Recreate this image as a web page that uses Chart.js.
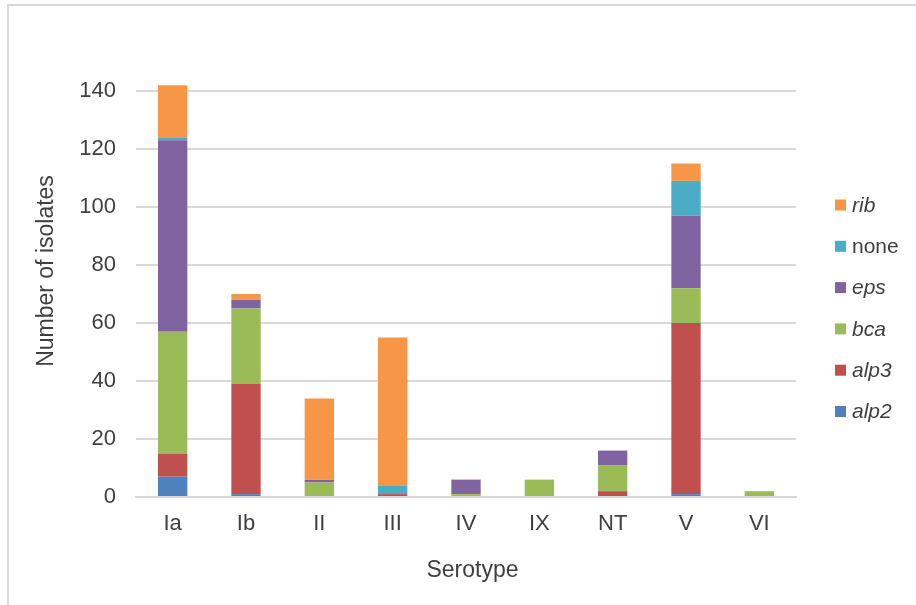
<!DOCTYPE html>
<html>
<head>
<meta charset="utf-8">
<script src="https://cdn.jsdelivr.net/npm/chart.js@4.4.1/dist/chart.umd.min.js"></script>
<style>
  html, body { margin: 0; padding: 0; background: #fff; }
  #wrap { position: relative; width: 916px; height: 605px; overflow: hidden; }
  #frame { position: absolute; left: 7px; top: 4px; width: 980px; height: 680px;
           border: 2px solid #d9d9d9; box-sizing: border-box; }
  #c { position: absolute; left: 0; top: 0; }
</style>
</head>
<body>
<div id="wrap">
  <div id="frame"></div>
  <canvas id="c" width="916" height="605"></canvas>
</div>
<script>
// Serotypes along the x axis
const serotypes = ['Ia', 'Ib', 'II', 'III', 'IV', 'IX', 'NT', 'V', 'VI'];

// Isolate counts per surface-protein gene, stacked bottom to top
const alp2 = [7, 1, 0, 0, 0, 0, 0, 1, 0];
const alp3 = [8, 38, 0, 1, 0, 0, 2, 59, 0];
const bca  = [42, 26, 5, 0, 1, 6, 9, 12, 2];
const eps  = [66, 3, 1, 0, 5, 0, 5, 25, 0];
const none = [1, 0, 0, 3, 0, 0, 0, 12, 0];
const rib  = [18, 2, 28, 51, 0, 0, 0, 6, 0];

const seriesNames  = ['alp2', 'alp3', 'bca', 'eps', 'none', 'rib'];
const seriesItalic = [true, true, true, true, false, true];
const seriesColors = ['#4F81BD', '#C0504D', '#9BBB59', '#8064A2', '#4BACC6', '#F79646'];
const seriesValues = [alp2, alp3, bca, eps, none, rib];

// Y axis ticks
const yTicks = [0, 20, 40, 60, 80, 100, 120, 140];

const FONT = '"Liberation Sans", Arial, sans-serif';
const TEXT = '#3f3f3f';
const GRID = '#d9d9d9';

// Legend drawn at the right, top entry = top of the stack, with italic gene names
const sideLegend = {
  id: 'sideLegend',
  afterDraw(chart) {
    const { ctx, chartArea } = chart;
    const ds = chart.data.datasets;
    const x0 = chartArea.right + 39;
    const y0 = chartArea.top + 114;
    const gap = 41.3;
    ctx.save();
    ctx.textBaseline = 'middle';
    ctx.textAlign = 'left';
    for (let i = ds.length - 1, row = 0; i >= 0; i--, row++) {
      const y = y0 + row * gap;
      ctx.fillStyle = ds[i].backgroundColor;
      ctx.fillRect(x0, y - 5.5, 11, 11);
      ctx.font = (seriesItalic[i] ? 'italic ' : '') + '21px ' + FONT;
      ctx.fillStyle = TEXT;
      ctx.fillText(ds[i].label, x0 + 17, y + 1);
    }
    ctx.restore();
  }
};

// Axis titles
const axisTitles = {
  id: 'axisTitles',
  afterDraw(chart) {
    const { ctx, chartArea } = chart;
    ctx.save();
    ctx.fillStyle = TEXT;
    ctx.font = '23px ' + FONT;
    ctx.textAlign = 'center';
    ctx.textBaseline = 'alphabetic';
    ctx.fillText('Serotype', (chartArea.left + chartArea.right) / 2 + 6.5, chartArea.bottom + 80);
    ctx.translate(chartArea.left - 83, chartArea.top + 180);
    ctx.rotate(-Math.PI / 2);
    ctx.fillText('Number of isolates', 0, 0);
    ctx.restore();
  }
};

const datasets = seriesNames.map((name, i) => ({
  label: name,
  data: seriesValues[i],
  backgroundColor: seriesColors[i],
  borderWidth: 0,
  barPercentage: 0.4,
  categoryPercentage: 1.0,
  clip: false
}));

new Chart(document.getElementById('c'), {
  type: 'bar',
  data: { labels: serotypes, datasets },
  plugins: [sideLegend, axisTitles],
  options: {
    responsive: false,
    animation: false,
    devicePixelRatio: 1,
    layout: { padding: { top: 91, right: 120, bottom: 0, left: 0 } },
    plugins: {
      legend: { display: false },
      tooltip: { enabled: false },
      title: { display: false }
    },
    scales: {
      x: {
        stacked: true,
        grid: { display: false, drawTicks: false },
        border: { display: true, color: GRID, width: 2 },
        ticks: { color: TEXT, font: { family: FONT, size: 22 }, padding: 14 },
        afterFit(scale) { scale.height = 108; }
      },
      y: {
        stacked: true,
        min: 0,
        max: 140,
        afterBuildTicks(scale) { scale.ticks = yTicks.map(v => ({ value: v })); },
        grid: { color: GRID, lineWidth: 2, drawTicks: false },
        border: { display: false },
        ticks: { color: TEXT, font: { family: FONT, size: 22 }, padding: 20 },
        afterFit(scale) { scale.width = 136; }
      }
    }
  }
});
</script>
</body>
</html>
